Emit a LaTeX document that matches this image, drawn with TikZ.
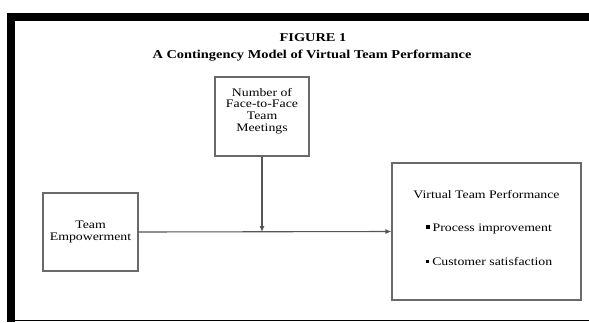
\documentclass[tikz,border=0pt]{standalone}
\usepackage{fontspec}
\setmainfont[FakeStretch=1.2]{Liberation Serif}
\usetikzlibrary{arrows.meta}
\definecolor{boxgray}{HTML}{6A6A6A}
\definecolor{linegray}{HTML}{555555}
\tikzset{
  boxnode/.style={draw=boxgray, line width=1.1pt, fill=white, inner sep=0pt, align=center, font=\fontsize{11.5}{11.7}\selectfont},
  plain/.style={inner sep=0pt, font=\fontsize{11.5}{11.7}\selectfont},
  conn/.style={draw=linegray, line width=1.1pt, -{Latex[length=6pt,width=5pt]}},
  titlefont/.style={inner sep=0pt, font=\bfseries\fontsize{12}{13}\selectfont}
}
\newcommand{\sqbullet}{\rule[0.45ex]{3.5pt}{3.5pt}\hspace{3pt}}
\begin{document}
\begin{tikzpicture}[x=1pt,y=-1pt]
\useasboundingbox (0,0) rectangle (589,322);
% frame
\fill[black] (7.3,12.7) rectangle (589,20.7);
\fill[black] (7.3,12.7) rectangle (14.7,322);
\fill[black] (14.7,319.8) rectangle (589,321.2);
% titles
\node[titlefont] (fig) at (313,37.5) {FIGURE 1};
\node[titlefont] (sub) at (312,56) {A Contingency Model of Virtual Team Performance};
% boxes
\node[boxnode, minimum width=95pt, minimum height=78pt] (emp) at (90.5,232) {Team\\Empowerment};
\node[boxnode, minimum width=94pt, minimum height=79pt] (meet) at (262,116.5) {Number of\\Face-to-Face\\Team\\Meetings\\[2pt]};
\node[boxnode, minimum width=189pt, minimum height=137pt] (vtp) at (486.5,231.5) {};
\node[plain] (vtpt) at (486.5,194.5) {Virtual Team Performance};
\node[plain] (p1) at (489,228.5) {\sqbullet Process improvement};
\node[plain] (p2) at (489,261.5) {\sqbullet Customer satisfaction};
% connectors
\coordinate (j) at (meet.south |- emp.east);
\draw[conn] (emp.east) -- (vtp.west);
\draw[conn] (meet.south) -- (j);
\end{tikzpicture}
\end{document}
